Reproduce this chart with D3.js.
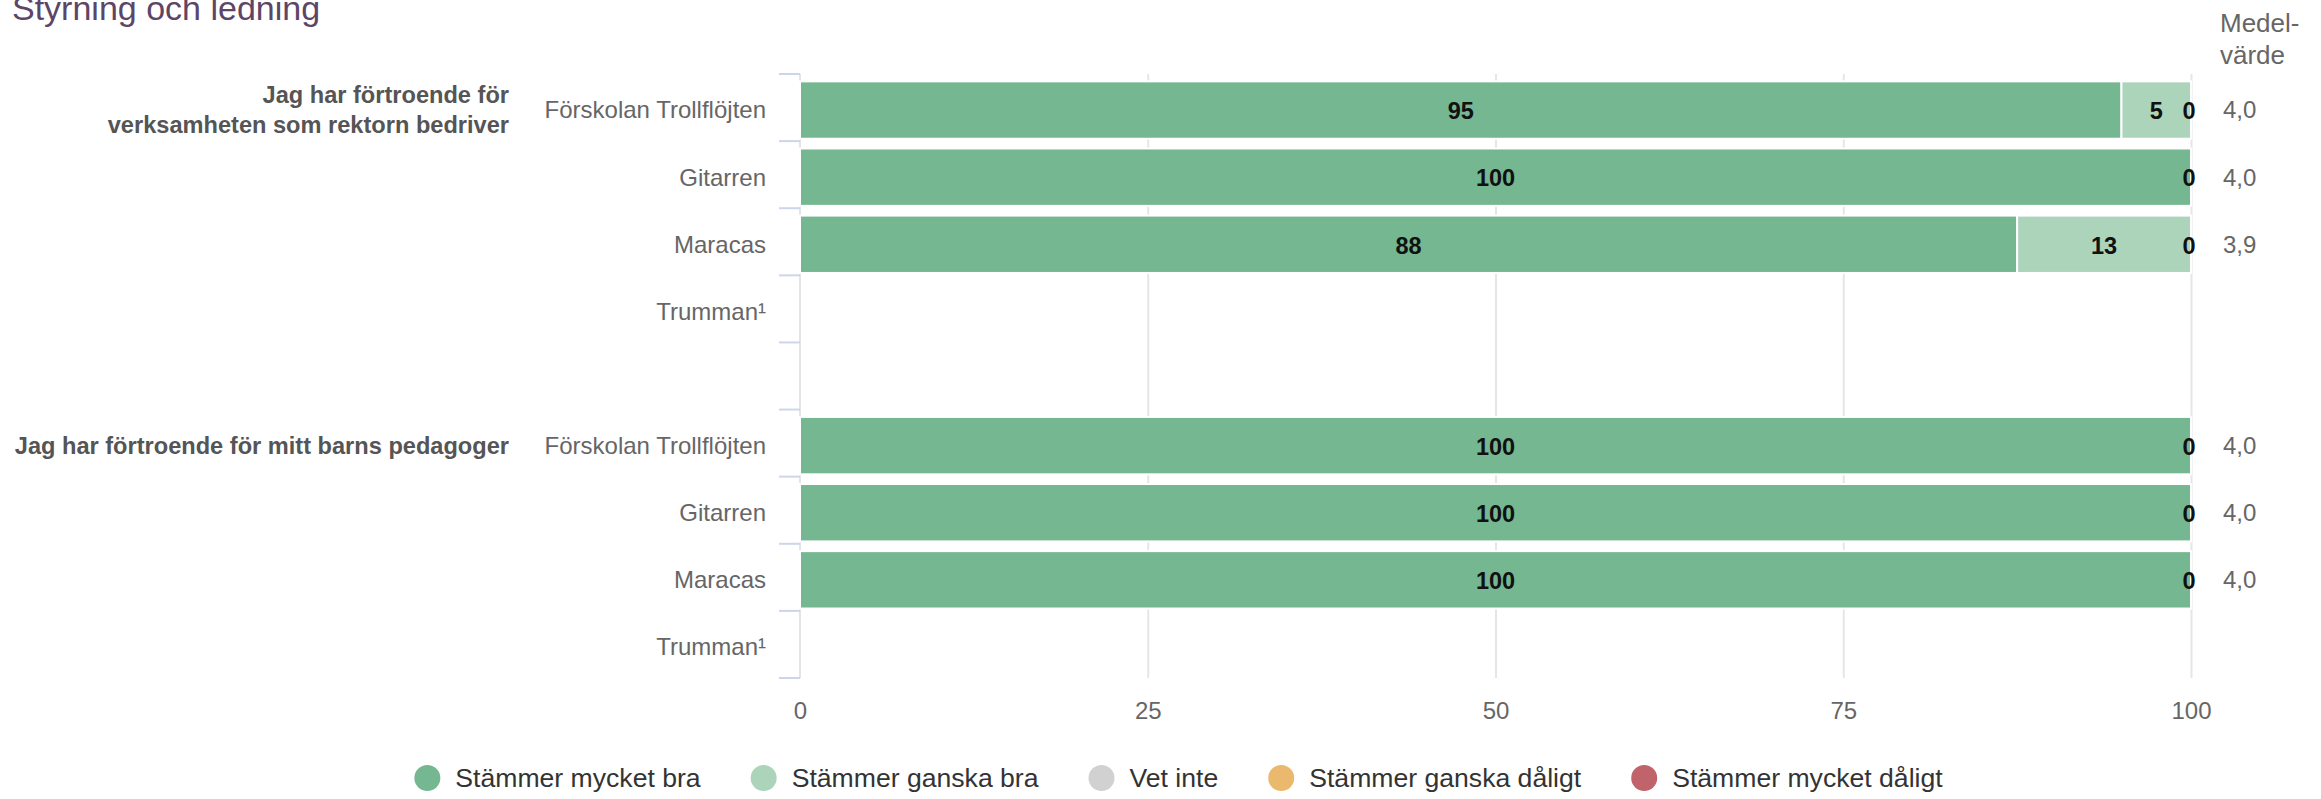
<!DOCTYPE html>
<html>
<head>
<meta charset="utf-8">
<script src="https://cdn.jsdelivr.net/npm/d3@7"></script>
<style>
  body { margin: 0; background: #fff; }
  svg { display: block; font-family: "Liberation Sans", Arial, sans-serif; }
</style>
</head>
<body>
<div id="chart"></div>
<script>
// data
var title = "Styrning och ledning";
var questions = [
    ["Jag har förtroende för", "verksamheten som rektorn bedriver"],
    ["Jag har förtroende för mitt barns pedagoger"]
];
var units = ["Förskolan Trollflöjten", "Gitarren", "Maracas", "Trumman¹"];
// rows: question 0 x units, one empty row, question 1 x units
var rowQuestion = [0, 0, 0, 0, null, 1, 1, 1, 1];
var rowUnit = [0, 1, 2, 3, null, 0, 1, 2, 3];

var seriesNames = ["Stämmer mycket bra", "Stämmer ganska bra", "Vet inte", "Stämmer ganska dåligt", "Stämmer mycket dåligt"];
var seriesColors = ["#75b790", "#acd4bb", "#d1d1d1", "#ebb96d", "#c1636b"];
var mycketBra    = [95, 100, 87.5, null, null, 100, 100, 100, null];
var ganskaBra    = [5, 0, 12.5, null, null, 0, 0, 0, null];
var vetInte      = [0, 0, 0, null, null, 0, 0, 0, null];
var ganskaDaligt = [0, 0, 0, null, null, 0, 0, 0, null];
var mycketDaligt = [0, 0, 0, null, null, 0, 0, 0, null];
var medelvarde   = [4.0, 4.0, 3.9, null, null, 4.0, 4.0, 4.0, null];
var xTicks = [0, 25, 50, 75, 100];

var W = 2321, H = 799;
var plot = { left: 800, right: 2191, top: 74, bottom: 678 };

var svg = d3.select("#chart").append("svg")
    .attr("width", W)
    .attr("height", H);

var rowIds = d3.range(rowQuestion.length);
var x = d3.scaleLinear().domain([0, 100]).range([plot.left, plot.right]);
var y = d3.scaleBand().domain(rowIds).range([plot.top, plot.bottom]);
var barH = y.bandwidth() * 0.855;
// marks sit a little below the middle of each band
var rowMid = function (i) { return y(i) + y.bandwidth() / 2 + 2.5; };

// title
svg.append("text")
    .attr("x", 12)
    .attr("y", 20)
    .style("font-size", "34px")
    .style("fill", "#5d4566")
    .text(title);

// gridlines
svg.append("g")
    .attr("class", "grid")
    .attr("transform", "translate(0," + plot.bottom + ")")
    .call(d3.axisBottom(x).tickValues(xTicks.slice(1)).tickSize(-(plot.bottom - plot.top)).tickFormat(""))
    .call(function (g) { g.select(".domain").remove(); })
    .selectAll("line")
    .style("stroke", "#e6e6e6")
    .style("stroke-width", 2);

// x axis labels
svg.append("g")
    .attr("class", "x axis")
    .attr("transform", "translate(0," + plot.bottom + ")")
    .call(d3.axisBottom(x).tickValues(xTicks).tickSize(0).tickPadding(0))
    .call(function (g) { g.select(".domain").remove(); })
    .selectAll("text")
    .attr("y", 41)
    .attr("dy", 0)
    .style("font-family", "Liberation Sans, Arial, sans-serif")
    .style("font-size", "24px")
    .style("fill", "#666");

// left axis line and category ticks (between categories)
svg.append("line")
    .attr("x1", plot.left).attr("x2", plot.left)
    .attr("y1", plot.top).attr("y2", plot.bottom)
    .style("stroke", "#e3e3e8")
    .style("stroke-width", 2);

var boundaries = rowIds.map(function (i) { return y(i); }).concat([plot.bottom]);
svg.append("g").selectAll("line")
    .data(boundaries)
    .enter().append("line")
    .attr("x1", plot.left - 21).attr("x2", plot.left)
    .attr("y1", function (d) { return d; })
    .attr("y2", function (d) { return d; })
    .style("stroke", "#ccd6eb")
    .style("stroke-width", 2);

// stacked bars
var table = rowIds.map(function (i) {
    return {
        row: i,
        s0: mycketBra[i] || 0, s1: ganskaBra[i] || 0, s2: vetInte[i] || 0,
        s3: ganskaDaligt[i] || 0, s4: mycketDaligt[i] || 0,
        hasData: mycketBra[i] != null
    };
});
var stack = d3.stack().keys(["s0", "s1", "s2", "s3", "s4"]);
var layers = stack(table);

var barsG = svg.append("g");
layers.forEach(function (layer, k) {
    barsG.selectAll(null)
        .data(layer.filter(function (d) { return d.data.hasData && d[1] > d[0]; }))
        .enter().append("rect")
        .attr("x", function (d) { return x(d[0]); })
        .attr("width", function (d) { return x(d[1]) - x(d[0]); })
        .attr("y", function (d) { return rowMid(d.data.row) - barH / 2; })
        .attr("height", barH)
        .style("fill", seriesColors[k])
        .style("stroke", "#fff")
        .style("stroke-width", 2);
});

// data labels, overlapping ones dropped
var placed = {};
layers.forEach(function (layer) {
    layer.forEach(function (d) {
        if (!d.data.hasData) return;
        var v = d[1] - d[0];
        var cx = v > 0 ? x((d[0] + d[1]) / 2) : x(d[1]) - 2;
        var key = d.data.row;
        placed[key] = placed[key] || [];
        for (var j = 0; j < placed[key].length; j++) {
            if (Math.abs(placed[key][j] - cx) < 20) return;
        }
        placed[key].push(cx);
        svg.append("text")
            .attr("x", cx)
            .attr("y", rowMid(d.data.row) + 1)
            .attr("dy", "0.35em")
            .attr("text-anchor", "middle")
            .style("font-size", "23.5px")
            .style("font-weight", "bold")
            .style("fill", "#111")
            .text(Math.round(v));
    });
});

// category labels
svg.append("g").selectAll("text")
    .data(rowIds.filter(function (i) { return rowUnit[i] != null; }))
    .enter().append("text")
    .attr("x", 766)
    .attr("y", function (i) { return rowMid(i); })
    .attr("dy", "0.35em")
    .attr("text-anchor", "end")
    .style("font-size", "24px")
    .style("fill", "#666")
    .text(function (i) { return units[rowUnit[i]]; });

// question labels, at the first row of each question
questions.forEach(function (lines, q) {
    var first = rowQuestion.indexOf(q);
    var cy = rowMid(first);
    var lh = 30;
    var t = svg.append("text")
        .attr("text-anchor", "end")
        .style("font-size", "23.6px")
        .style("font-weight", "bold")
        .style("fill", "#555");
    lines.forEach(function (line, n) {
        t.append("tspan")
            .attr("x", 509)
            .attr("y", cy + (n - (lines.length - 1) / 2) * lh)
            .attr("dy", "0.35em")
            .text(line);
    });
});

// mean values
var fmt = function (v) { return d3.format(".1f")(v).replace(".", ","); };
svg.append("text")
    .style("font-size", "26px")
    .style("fill", "#666")
    .call(function (t) {
        t.append("tspan").attr("x", 2220).attr("y", 32).text("Medel-");
        t.append("tspan").attr("x", 2220).attr("y", 64).text("värde");
    });
svg.append("g").selectAll("text")
    .data(rowIds.filter(function (i) { return medelvarde[i] != null; }))
    .enter().append("text")
    .attr("x", 2223)
    .attr("y", function (i) { return rowMid(i); })
    .attr("dy", "0.35em")
    .style("font-size", "24px")
    .style("fill", "#666")
    .text(function (i) { return fmt(medelvarde[i]); });

// legend
var legend = svg.append("g");
var items = legend.selectAll("g")
    .data(seriesNames)
    .enter().append("g");
items.append("circle")
    .attr("r", 13)
    .style("fill", function (d, i) { return seriesColors[i]; });
items.append("text")
    .attr("x", 28)
    .attr("dy", "0.35em")
    .style("font-size", "26.6px")
    .style("fill", "#333")
    .text(function (d) { return d; });

var offset = 0, positions = [];
items.each(function () {
    var tw = d3.select(this).select("text").node().getComputedTextLength();
    positions.push(offset);
    offset += 13 + 28 + tw + 50;
});
var total = offset - 50 + 13;
var startX = 1185 - total / 2 + 13;
items.attr("transform", function (d, i) { return "translate(" + (startX + positions[i]) + ",778)"; });
</script>
</body>
</html>
